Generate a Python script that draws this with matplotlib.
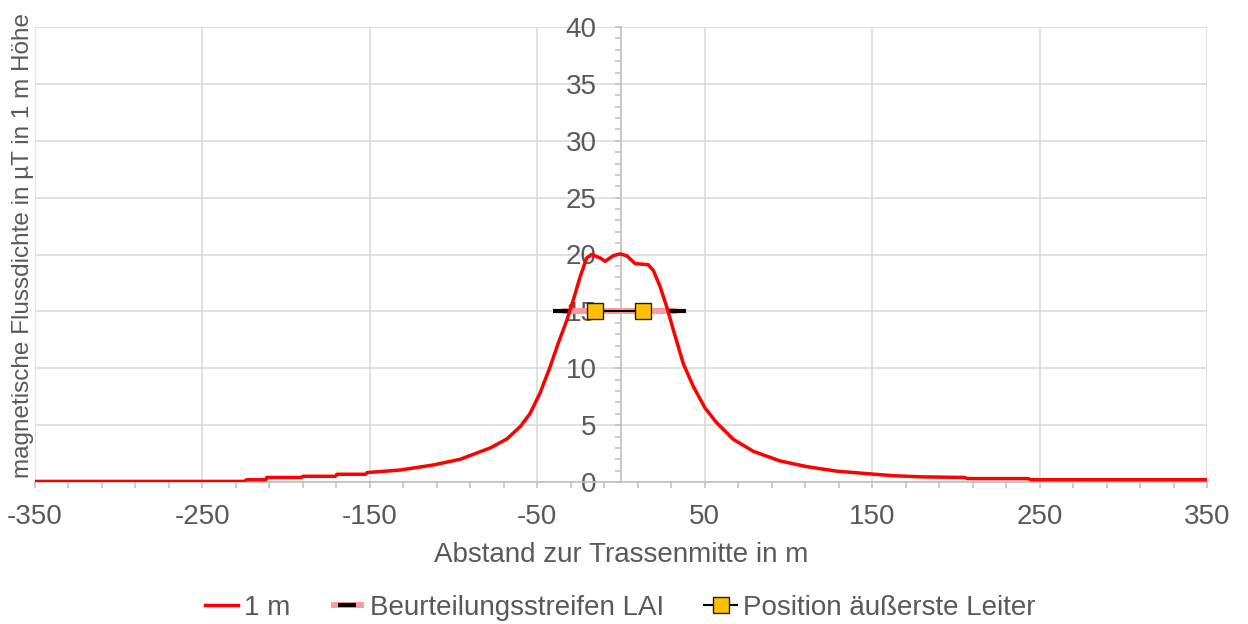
import matplotlib.pyplot as plt
from matplotlib.ticker import MultipleLocator, FixedLocator

# magnetische Flussdichte in 1 m Hoehe
abstand = [-350, -225, -223.6, -212, -211.6, -191, -190, -170.5, -169.7, -152.5, -151.7,
           -133.8, -132, -112, -96, -78, -68, -60, -54.4, -48.4, -42.4, -37.5, -32.4,
           -28.5, -24.5, -20.5, -17.5, -12.5, -9.5, -4.6, -0.6, 3.4, 8.4, 16.3, 19.3,
           23.3, 27.3, 31.2, 37.2, 43.2, 50.2, 57.2, 67.1, 79, 95, 111, 129, 150, 163,
           180, 205, 207, 243, 245, 350]
flussdichte = [0.05, 0.05, 0.2, 0.2, 0.4, 0.4, 0.5, 0.5, 0.68, 0.68, 0.83,
               1.03, 1.05, 1.5, 2.0, 3.0, 3.8, 4.9, 6.0, 7.8, 10.1, 12.2, 14.2,
               16.0, 18.0, 19.7, 20.0, 19.7, 19.4, 19.9, 20.05, 19.9, 19.2, 19.1, 18.6,
               17.2, 15.4, 13.4, 10.4, 8.4, 6.5, 5.2, 3.75, 2.7, 1.85, 1.35, 0.95, 0.7, 0.55,
               0.45, 0.4, 0.3, 0.3, 0.2, 0.2]

lai_x = [-35.5, 33.3]
lai_y = [15, 15]
leiter_x = [-15.5, 13.3]
leiter_y = [15, 15]

grau = '#595959'
plt.rcParams['font.family'] = ['Liberation Sans', 'DejaVu Sans']
plt.rcParams['axes.unicode_minus'] = False

fig = plt.figure(figsize=(12.48, 6.24), dpi=100)
ax = fig.add_axes([35 / 1248, 1 - 482 / 624, (1207 - 35) / 1248, (482 - 27) / 624])

ax.plot(lai_x, lai_y, color='#FF9B9B', lw=4.3, marker='_', ms=12.5, mec='black',
        mew=3, solid_capstyle='butt', zorder=3, label='Beurteilungsstreifen LAI')
ax.plot(leiter_x, leiter_y, color='black', lw=1.5, marker='s', ms=12, mfc='#FFC000',
        mec='#222222', mew=1, zorder=4, label='Position äußerste Leiter')
ax.plot(abstand, flussdichte, color='#FF0000', lw=2.5, zorder=5, label='1 m',
        solid_joinstyle='round')

ax.set_xlim(-350, 350)
ax.set_ylim(0, 40)
ax.xaxis.set_major_locator(FixedLocator([-350, -250, -150, -50, 50, 150, 250, 350]))
ax.xaxis.set_minor_locator(FixedLocator(list(range(-350, 351, 20))))
ax.yaxis.set_major_locator(MultipleLocator(5))
ax.yaxis.set_minor_locator(MultipleLocator(1))

ax.grid(True, which='major', color='#D9D9D9', lw=1.1, zorder=0)
ax.set_axisbelow(True)

for s in ['top', 'right']:
    ax.spines[s].set_visible(False)
ax.spines['left'].set_position(('data', 0))
for s in ['left', 'bottom']:
    ax.spines[s].set_color('#BFBFBF')
    ax.spines[s].set_linewidth(1.2)

ax.tick_params(axis='both', which='both', direction='out', color='#BFBFBF', width=1.1)
ax.tick_params(axis='x', which='both', length=4.5, pad=11, labelsize=20, labelcolor=grau)
ax.tick_params(axis='y', which='both', length=4.5, pad=13, labelsize=20, labelcolor=grau)

ax.set_xlabel('Abstand zur Trassenmitte in m', fontsize=20, color=grau, labelpad=9)
fig.text(23 / 1248, 1 - 246 / 624, 'magnetische Flussdichte in µT in 1 m Höhe',
         rotation=90, ha='center', va='center', fontsize=17.5, color=grau)

h, l = ax.get_legend_handles_labels()
order = [2, 0, 1]
fig.legend([h[i] for i in order], [l[i] for i in order], loc='center',
           bbox_to_anchor=(0.497, 1 - 608 / 624), ncol=3, frameon=False,
           fontsize=20, labelcolor=grau, handlelength=1.2, handletextpad=0.2,
           columnspacing=1.45)

fig.savefig('out.png', dpi=100)
